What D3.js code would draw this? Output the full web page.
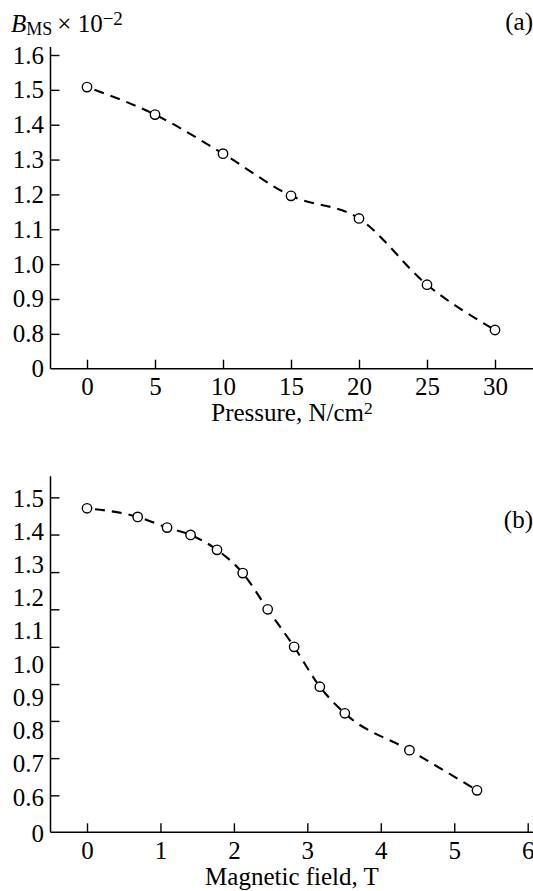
<!DOCTYPE html>
<html>
<head>
<meta charset="utf-8">
<script src="https://cdn.jsdelivr.net/npm/d3@7/dist/d3.min.js"></script>
<style>
  body { margin: 0; background: white; }
  text { font-family: "Liberation Serif", "Times New Roman", serif; fill: black; }
</style>
</head>
<body>
<svg id="chart" width="533" height="891"></svg>
<script>
// panel (a): pressure
var pressure = [0, 5, 10, 15, 20, 25, 30];
var bmsA = [1.508, 1.429, 1.317, 1.196, 1.131, 0.941, 0.811];
var aXTicks = [0, 5, 10, 15, 20, 25, 30];
var aYTicks = [0.7, 0.8, 0.9, 1.0, 1.1, 1.2, 1.3, 1.4, 1.5, 1.6];
var aYLabels = ["0", "0.8", "0.9", "1.0", "1.1", "1.2", "1.3", "1.4", "1.5", "1.6"];

// panel (b): magnetic field
var field = [0, 0.69, 1.09, 1.41, 1.77, 2.12, 2.46, 2.82, 3.17, 3.51, 4.39, 5.31];
var bmsB = [1.469, 1.443, 1.411, 1.389, 1.344, 1.274, 1.165, 1.052, 0.932, 0.852, 0.741, 0.620];
var bXTicks = [0, 1, 2, 3, 4, 5, 6];
var bYTicks = [0.49, 0.6, 0.7, 0.8, 0.9, 1.0, 1.1, 1.2, 1.3, 1.4, 1.5];
var bYLabels = ["0", "0.6", "0.7", "0.8", "0.9", "1.0", "1.1", "1.2", "1.3", "1.4", "1.5"];
// the tick marks in (b) don't sit under the labels in the original
var bYMarks = [1.502, 1.390, 1.277, 1.165, 1.052, 0.940, 0.829, 0.717, 0.605];

var svg = d3.select("#chart");
var spineLeft = 50.5, spineRight = 533;

var xA = d3.scaleLinear().domain([0, 30]).range([87, 495]);
var yA = d3.scaleLinear().domain([0.7, 1.6]).range([368.7, 55]);
var xB = d3.scaleLinear().domain([0, 6]).range([87, 527.7]);
var yB = d3.scaleLinear().domain([0.6, 1.5]).range([797, 498]);

//draws the L shaped frame
function drawSpines(yBottom, yTop) {
  svg.append("line")
      .attr("x1", spineLeft).attr("x2", spineLeft)
      .attr("y1", yBottom).attr("y2", yTop)
      .attr("stroke", "black").attr("stroke-width", 1.5);
  svg.append("line")
      .attr("x1", spineLeft).attr("x2", spineRight)
      .attr("y1", yBottom).attr("y2", yBottom)
      .attr("stroke", "black").attr("stroke-width", 1.5);
}

function styleAxis(g) {
  g.select(".domain").remove();
  g.selectAll(".tick line").attr("stroke", "black").attr("stroke-width", 1.4);
  g.selectAll(".tick text").style("font-size", "25px").attr("fill", "black");
}

function drawXAxis(x, yPos, ticks) {
  svg.append("g")
      .attr("transform", "translate(0," + yPos + ")")
      .call(d3.axisBottom(x).tickValues(ticks).tickSize(-9).tickPadding(8.5).tickFormat(d3.format("d")))
      .call(styleAxis)
      .attr("font-family", null);
}

function drawYAxis(y, ticks, labels, marks) {
  var g = svg.append("g")
      .attr("transform", "translate(" + spineLeft + ",0)");
  if (marks) {
    // labels only, marks drawn separately
    g.call(d3.axisLeft(y).tickValues(ticks).tickSize(0).tickPadding(6.5)
        .tickFormat(function(d, i) { return labels[i]; }))
      .call(styleAxis);
    g.selectAll(".tick line").remove();
    svg.append("g")
        .attr("transform", "translate(" + spineLeft + ",0)")
        .call(d3.axisLeft(y).tickValues(marks).tickSize(-9).tickFormat(""))
        .call(styleAxis);
  } else {
    g.call(d3.axisLeft(y).tickValues(ticks).tickSize(-9).tickPadding(6.5)
        .tickFormat(function(d, i) { return labels[i]; }))
      .call(styleAxis);
    // no mark at the broken zero
    g.selectAll(".tick").filter(function(d) { return d == ticks[0]; }).select("line").remove();
  }
  g.attr("font-family", null);
}

//dashed curve plus open circles
function drawSeries(xs, ys, x, y) {
  var pts = xs.map(function(d, i) { return [d, ys[i]]; });
  var line = d3.line()
      .x(function(d) { return x(d[0]); })
      .y(function(d) { return y(d[1]); })
      .curve(d3.curveMonotoneX);
  svg.append("path")
      .datum(pts)
      .attr("d", line)
      .attr("fill", "none")
      .attr("stroke", "black")
      .attr("stroke-width", 2.1)
      .attr("stroke-dasharray", "10,7")
      .attr("stroke-dashoffset", -8);
  svg.selectAll(null)
      .data(pts)
      .enter().append("circle")
      .attr("cx", function(d) { return x(d[0]); })
      .attr("cy", function(d) { return y(d[1]); })
      .attr("r", 4.7)
      .attr("fill", "white")
      .attr("stroke", "black")
      .attr("stroke-width", 1.4);
}

// ---- panel (a)
drawSpines(368.7, 47);
drawYAxis(yA, aYTicks, aYLabels, null);
drawXAxis(xA, 368.7, aXTicks);
drawSeries(pressure, bmsA, xA, yA);

var title = svg.append("text").attr("x", 11).attr("y", 31.7).style("font-size", "25px");
title.append("tspan").style("font-style", "italic").text("B");
title.append("tspan").attr("dy", 3.3).style("font-size", "18px").text("MS");
title.append("tspan").attr("dy", -3.3).attr("dx", 5).text("× 10");
title.append("tspan").attr("dy", -6.7).style("font-size", "19px").text("−2");

svg.append("text").attr("x", 533).attr("y", 29.5)
    .attr("text-anchor", "end").style("font-size", "25px").text("(a)");

var labA = svg.append("text").attr("x", 292).attr("y", 420.5)
    .attr("text-anchor", "middle").style("font-size", "25px");
labA.append("tspan").text("Pressure, N/cm");
labA.append("tspan").attr("dy", -6.5).style("font-size", "17.5px").text("2");

// ---- panel (b)
drawSpines(832.3, 476.3);
drawYAxis(yB, bYTicks, bYLabels, bYMarks);
drawXAxis(xB, 832.3, bXTicks);
drawSeries(field, bmsB, xB, yB);

svg.append("text").attr("x", 533).attr("y", 528)
    .attr("text-anchor", "end").style("font-size", "25px").text("(b)");

svg.append("text").attr("x", 292).attr("y", 885)
    .attr("text-anchor", "middle").style("font-size", "25px").text("Magnetic field, T");
</script>
</body>
</html>
